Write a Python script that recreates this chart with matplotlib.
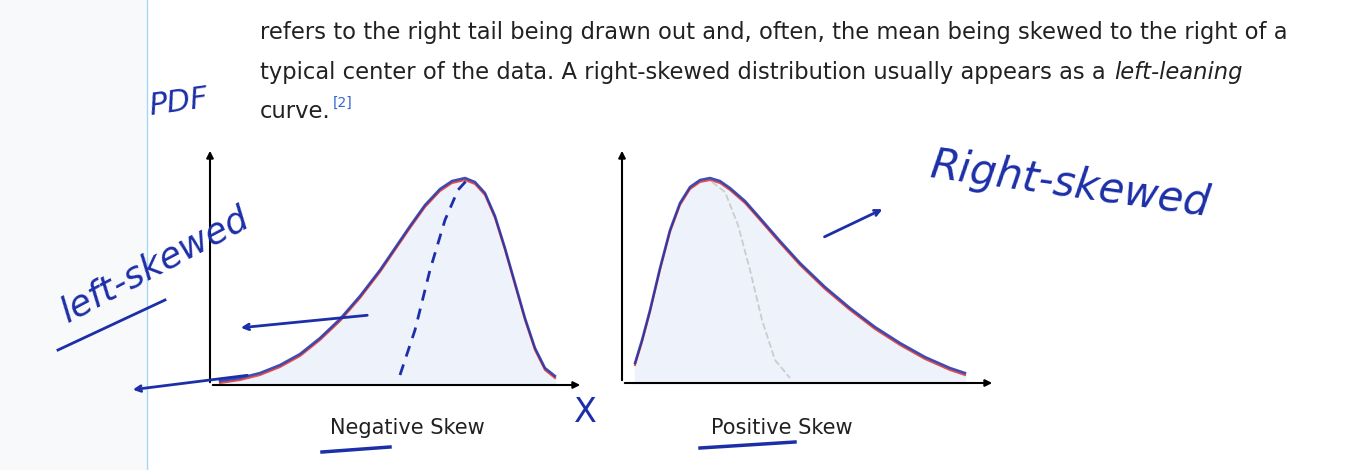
import matplotlib.pyplot as plt

# curves (pixel coordinates of the screenshot)
neg_x = [220, 240, 260, 280, 300, 320, 340, 360, 380, 395, 410, 425, 440, 452, 465, 475, 485, 495, 505, 515, 525, 535, 545, 555]
neg_y = [383, 380, 375, 367, 356, 340, 321, 298, 272, 250, 228, 207, 191, 183, 180, 184, 195, 218, 250, 285, 320, 350, 370, 378]
neg_norm_x = [400, 415, 430, 445, 458, 467]
neg_norm_y = [375, 330, 270, 220, 190, 180]
pos_x = [635, 642, 650, 660, 670, 680, 690, 700, 710, 720, 730, 745, 760, 780, 800, 825, 850, 875, 900, 925, 950, 965]
pos_y = [365, 342, 312, 270, 232, 205, 189, 182, 180, 183, 190, 203, 220, 243, 265, 289, 310, 329, 345, 359, 370, 375]
pos_norm_x = [712, 725, 738, 750, 762, 775, 790]
pos_norm_y = [182, 192, 225, 270, 320, 360, 378]

text_lines = [
    "refers to the right tail being drawn out and, often, the mean being skewed to the right of a",
    "typical center of the data. A right-skewed distribution usually appears as a",
]

fig = plt.figure(figsize=(13.48, 4.70), dpi=100)
ax = fig.add_axes([0, 0, 1, 1])
ax.set_xlim(0, 1348)
ax.set_ylim(470, 0)
ax.axis("off")

# page margin
ax.axvspan(0, 147, color="#f8f9fa")
ax.axvline(147, color="#a7d7f9", lw=1)

body = dict(fontsize=16.3, color="#202122", va="center")
ax.text(260, 32, text_lines[0], **body)
ax.text(260, 72, text_lines[1], **body)
ax.text(1114, 72, "left-leaning", style="italic", **body)
ax.text(260, 112, "curve.", **body)
ax.text(333, 103, "[2]", fontsize=10, color="#3366cc", va="center")

blue = "#1c2fa8"
red = "#e05050"
fill = "#eef2fa"

# axes arrows
for ox, oy, xe in [(210, 385, 583), (622, 383, 995)]:
    ax.annotate("", xy=(ox, 148), xytext=(ox, oy), arrowprops=dict(arrowstyle="-|>", color="black", lw=1.5))
    ax.annotate("", xy=(xe, oy), xytext=(ox, oy), arrowprops=dict(arrowstyle="-|>", color="black", lw=1.5))

ax.fill_between(neg_x, neg_y, 385, color=fill)
ax.fill_between(pos_x, pos_y, 383, color=fill)
ax.plot(neg_x, neg_y, color=red, lw=1.5)
ax.plot(neg_x, [v - 2 for v in neg_y], color=blue, lw=1.8, alpha=0.85)
ax.plot(neg_norm_x, neg_norm_y, color=blue, lw=2, ls=(0, (4, 3)))
ax.plot(pos_x, pos_y, color=red, lw=1.5)
ax.plot(pos_x, [v - 2 for v in pos_y], color=blue, lw=1.8, alpha=0.85)
ax.plot(pos_norm_x, pos_norm_y, color="#cccccc", lw=1.3, ls="--")

ax.text(407, 428, "Negative Skew", fontsize=15, ha="center", va="center", color="#202122")
ax.text(782, 428, "Positive Skew", fontsize=15, ha="center", va="center", color="#202122")
ax.plot([322, 390], [452, 447], color=blue, lw=2.5)
ax.plot([700, 795], [448, 442], color=blue, lw=2.5)

# handwritten notes
ax.text(178, 102, "PDF", fontsize=22, color=blue, rotation=8, ha="center", va="center", style="italic")
ax.text(155, 265, "left-skewed", fontsize=26, color=blue, rotation=28, ha="center", va="center", style="italic")
ax.plot([58, 165], [350, 300], color=blue, lw=2)
ax.text(1070, 185, "Right-skewed", fontsize=30, color=blue, rotation=-8, ha="center", va="center", style="italic")
ax.annotate("", xy=(885, 208), xytext=(822, 238), arrowprops=dict(arrowstyle="->", color=blue, lw=2))
ax.annotate("", xy=(238, 328), xytext=(370, 315), arrowprops=dict(arrowstyle="->", color=blue, lw=2))
ax.annotate("", xy=(130, 390), xytext=(250, 375), arrowprops=dict(arrowstyle="->", color=blue, lw=2))
ax.text(585, 412, "X", fontsize=24, color=blue, ha="center", va="center")

fig.savefig("out.png", dpi=100)
